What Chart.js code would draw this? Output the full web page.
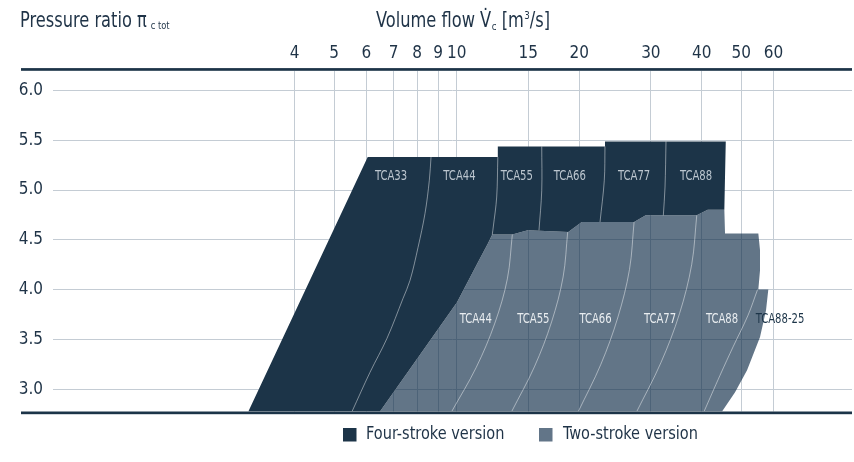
<!DOCTYPE html>
<html><head><meta charset="utf-8">
<script src="https://cdn.jsdelivr.net/npm/chart.js@4.4.1/dist/chart.umd.min.js"></script>
<style>html,body{margin:0;padding:0;background:#fff;}#wrap{width:854px;height:462px;position:relative;}</style>
</head><body><div id="wrap"><canvas id="c"></canvas></div>
<script>
const FONT = "'Liberation Sans Narrow','DejaVu Sans Condensed',Roboto,sans-serif";
const TEXT = '#1f3347';
const DARK = '#1c3448';

// Axis ticks
const xTicks = [4, 5, 6, 7, 8, 9, 10, 15, 20, 30, 40, 50, 60];
const yTicks = [3.0, 3.5, 4.0, 4.5, 5.0, 5.5, 6.0];

// Four-stroke envelope (volume flow m3/s, pressure ratio)
const fourX = [3.077, 6.045, 12.62, 12.62, 23.14, 23.14, 45.83, 45.64, 45.46, 41.38, 38.89, 29.14, 27.28, 20.29, 18.80, 14.95, 13.70, 12.23, 11.94, 11.28, 10.02, 6.479];
const fourY = [2.777, 5.331, 5.331, 5.438, 5.438, 5.488, 5.488, 5.147, 4.803, 4.803, 4.746, 4.746, 4.679, 4.679, 4.579, 4.596, 4.553, 4.553, 4.465, 4.275, 3.874, 2.777];

// Two-stroke envelope
const twoX = [6.479, 10.02, 11.28, 11.94, 12.23, 13.70, 14.95, 18.80, 20.29, 27.28, 29.14, 38.89, 41.38, 45.46, 45.64, 55.10, 55.63, 55.63, 55.10, 58.30, 57.55, 55.63, 51.69, 48.30, 44.87];
const twoY = [2.777, 3.874, 4.275, 4.465, 4.553, 4.553, 4.596, 4.579, 4.679, 4.679, 4.746, 4.746, 4.803, 4.803, 4.563, 4.563, 4.395, 4.195, 4.001, 4.001, 3.793, 3.526, 3.192, 2.971, 2.777];

// Frame-size boundaries, four-stroke
const sep33X = [8.649, 8.566, 8.360, 8.037, 7.681, 7.383, 6.743, 6.125, 5.532];
const sep33Y = [5.331, 5.097, 4.766, 4.425, 4.094, 3.913, 3.512, 3.171, 2.777];
const sep44X = [12.62, 12.54, 12.30, 12.23];
const sep44Y = [5.331, 4.930, 4.629, 4.553];
const sep55X = [16.18, 16.18, 15.93];
const sep55Y = [5.438, 4.997, 4.596];
const sep66X = [23.14, 23.05, 22.50];
const sep66Y = [5.438, 5.097, 4.679];
const sep77X = [32.68, 32.50, 32.19];
const sep77Y = [5.488, 5.030, 4.746];

// Frame-size boundaries, two-stroke
const tsep44X = [13.70, 13.32, 12.41, 11.17, 9.723];
const tsep44Y = [4.553, 4.108, 3.664, 3.220, 2.777];
const tsep55X = [18.74, 18.26, 17.11, 15.52, 13.65];
const tsep55Y = [4.579, 4.128, 3.677, 3.225, 2.777];
const tsep66X = [27.28, 26.58, 24.91, 22.61, 19.90];
const tsep66Y = [4.679, 4.202, 3.727, 3.251, 2.777];
const tsep77X = [38.89, 37.80, 35.28, 31.76, 27.70];
const tsep77Y = [4.746, 4.254, 3.760, 3.268, 2.777];
const tsep88X = [54.85, 51.98, 47.84, 44.37, 40.53];
const tsep88Y = [4.001, 3.743, 3.432, 3.141, 2.777];

// Region labels
const fourNames = ['TCA33', 'TCA44', 'TCA55', 'TCA66', 'TCA77', 'TCA88'];
const fourLabelX = [6.897, 10.16, 14.05, 18.96, 27.28, 38.73];
const fourLabelY = 5.133;
const twoNames = ['TCA44', 'TCA55', 'TCA66', 'TCA77', 'TCA88', 'TCA88-25'];
const twoLabelX = [11.14, 15.43, 21.94, 31.60, 44.87, 62.29];
const twoLabelY = 3.702;

const seriesNames = ['Four-stroke version', 'Two-stroke version'];

const pts = (xs, ys) => xs.map((x, i) => ({x: x, y: ys[i]}));

const datasets = [
  {label: seriesNames[0], data: pts(fourX, fourY), showLine: true, fill: 'shape',
   backgroundColor: DARK, borderWidth: 0, pointRadius: 0, order: 5},
  {label: seriesNames[1], data: pts(twoX, twoY), showLine: true, fill: 'shape',
   backgroundColor: 'rgba(14,43,70,0.65)', borderWidth: 0, pointRadius: 0, order: 6}
];
const seps = [[sep33X, sep33Y], [sep44X, sep44Y], [sep55X, sep55Y], [sep66X, sep66Y], [sep77X, sep77Y],
  [tsep44X, tsep44Y], [tsep55X, tsep55Y], [tsep66X, tsep66Y], [tsep77X, tsep77Y], [tsep88X, tsep88Y]];
seps.forEach(s => datasets.push({label: 'sep', data: pts(s[0], s[1]), showLine: true, fill: false,
  borderColor: 'rgba(255,255,255,0.45)', borderWidth: 1, pointRadius: 0, tension: 0.35, order: 1}));

// draw horizontally condensed text, returns advance width
function txt(ctx, s, x, y, sx, align) {
  const w = ctx.measureText(s).width * sx;
  let x0 = x;
  if (align === 'center') x0 = x - w / 2;
  ctx.save();
  ctx.translate(x0, y);
  ctx.scale(sx, 1);
  ctx.textAlign = 'left';
  ctx.fillText(s, 0, 0);
  ctx.restore();
  return w;
}

const deco = {
  id: 'deco',
  afterDraw(chart) {
    const ctx = chart.ctx, a = chart.chartArea, xs = chart.scales.x, ys = chart.scales.y;
    ctx.save();
    // thick frame lines
    ctx.fillStyle = DARK;
    ctx.fillRect(21, a.top - 2.4, a.right - 21, 2.7);
    ctx.fillRect(21, a.bottom, a.right - 21, 2.7);
    // region labels
    ctx.font = '13.5px ' + FONT;
    ctx.textBaseline = 'middle';
    ctx.fillStyle = '#bcc6cf';
    fourNames.forEach((n, i) => txt(ctx, n, xs.getPixelForValue(fourLabelX[i]), ys.getPixelForValue(fourLabelY), 0.83, 'center'));
    twoNames.forEach((n, i) => {
      ctx.fillStyle = i === twoNames.length - 1 ? DARK : '#e9edf0';
      txt(ctx, n, xs.getPixelForValue(twoLabelX[i]), ys.getPixelForValue(twoLabelY), 0.83, 'center');
    });
    // titles
    ctx.textBaseline = 'alphabetic';
    ctx.fillStyle = TEXT;
    const TS = 21.5, SX = 0.84;
    ctx.font = TS + 'px ' + FONT;
    let x = 20;
    x += txt(ctx, 'Pressure ratio π', x, 27, SX);
    ctx.font = '10.5px ' + FONT;
    txt(ctx, 'c tot', x + 4, 29, 0.88);
    x = 376;
    ctx.font = TS + 'px ' + FONT;
    x += txt(ctx, 'Volume flow V', x, 27, SX);
    const vw = ctx.measureText('V').width * SX;
    txt(ctx, '˙', x - vw / 2, 24, SX, 'center');
    ctx.font = '11px ' + FONT;
    x += txt(ctx, 'c', x + 0.5, 30, 0.88) + 0.5;
    ctx.font = TS + 'px ' + FONT;
    x += txt(ctx, ' [m', x, 27, SX);
    ctx.font = '11px ' + FONT;
    x += txt(ctx, '3', x + 0.5, 18.5, 0.88) + 0.5;
    ctx.font = TS + 'px ' + FONT;
    txt(ctx, '/s]', x, 27, SX);
    // legend
    ctx.textBaseline = 'middle';
    ctx.font = '17px ' + FONT;
    ctx.fillStyle = DARK; ctx.fillRect(343, 428, 13.5, 13.5);
    ctx.fillStyle = TEXT; txt(ctx, seriesNames[0], 366, 435, 0.95);
    ctx.fillStyle = '#627588'; ctx.fillRect(539, 428, 13.5, 13.5);
    ctx.fillStyle = TEXT; txt(ctx, seriesNames[1], 563, 435, 0.95);
    ctx.restore();
  }
};

new Chart(document.getElementById('c'), {
  type: 'scatter',
  data: {datasets: datasets},
  options: {
    responsive: true, maintainAspectRatio: false, animation: false,
    layout: {padding: {top: 0, right: 2, bottom: 50.5, left: 0}},
    plugins: {legend: {display: false}, tooltip: {enabled: false}},
    scales: {
      x: {
        type: 'logarithmic', position: 'top', min: 1.019, max: 93.6,
        afterBuildTicks: s => { s.ticks = xTicks.map(v => ({value: v})); },
        afterFit: s => { s.height = 70.5; },
        ticks: {font: {family: FONT, size: 17}, color: TEXT, padding: 7, autoSkip: false, maxRotation: 0,
          callback: v => String(v)},
        grid: {color: '#c4ccd4', lineWidth: 1, drawTicks: false},
        border: {display: false}
      },
      y: {
        type: 'linear', min: 2.777, max: 6.2,
        afterBuildTicks: s => { s.ticks = yTicks.map(v => ({value: v})); },
        afterFit: s => { s.width = 53; },
        ticks: {font: {family: FONT, size: 17}, color: TEXT, padding: 10, callback: v => Number(v).toFixed(1)},
        grid: {color: '#c4ccd4', lineWidth: 1, drawTicks: false},
        border: {display: false}
      }
    }
  },
  plugins: [deco]
});
</script></body></html>
